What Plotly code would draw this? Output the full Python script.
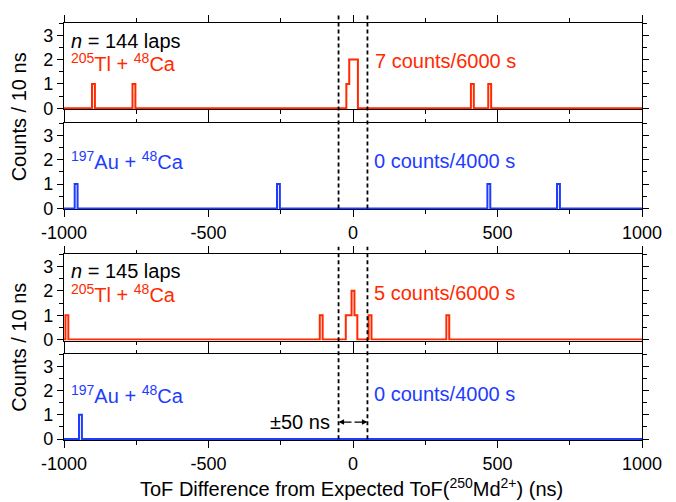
import plotly.graph_objects as go

# ---------------- data (bin centers in ns, counts per 10 ns bin) ----------------
BIN_WIDTH = 10
red144_centers = [-898, -758, -18, -8, 2, 12, 413, 473]
red144_counts = [1, 1, 1, 2, 2, 2, 1, 1]
blue144_centers = [-958, -258, 470, 711]
blue144_counts = [1, 1, 1, 1]
red145_centers = [-990, -110, -20, -10, 0, 10, 59, 328]
red145_counts = [1, 1, 1, 1, 2, 1, 1, 1]
blue145_centers = [-943]
blue145_counts = [1]

x_ticks = [-1000, -500, 0, 500, 1000]
y_ticks = [0, 1, 2, 3]

RED = "#FF2A00"
BLUE = "#1E3CFF"
FONT = "Liberation Sans, Arial, Helvetica, sans-serif"


def step_series(centers, counts, lo=-1000, hi=1000):
    bins = sorted(zip(centers, counts))
    edges = {lo, hi}
    for c, _ in bins:
        edges.add(round(c - BIN_WIDTH / 2, 3))
        edges.add(round(c + BIN_WIDTH / 2, 3))
    edges = sorted(e for e in edges if lo <= e <= hi)
    xs, ys = [], []
    for i in range(len(edges) - 1):
        mid = (edges[i] + edges[i + 1]) / 2
        v = 0
        for c, n in bins:
            if c - BIN_WIDTH / 2 <= mid <= c + BIN_WIDTH / 2:
                v = n
        xs.append(edges[i])
        ys.append(v)
    xs.append(edges[-1])
    ys.append(ys[-1])
    return xs, ys


panels = [
    (red144_centers, red144_counts, RED),
    (blue144_centers, blue144_counts, BLUE),
    (red145_centers, red145_counts, RED),
    (blue145_centers, blue145_counts, BLUE),
]

fig = go.Figure()
for i, (c, n, col) in enumerate(panels, start=1):
    xs, ys = step_series(c, n)
    fig.add_trace(go.Scatter(
        x=xs, y=ys, mode="lines", line=dict(color=col, width=2, shape="hv"),
        xaxis=f"x{i if i > 1 else ''}", yaxis=f"y{i if i > 1 else ''}",
        showlegend=False, hoverinfo="skip"))

domains = [[0.793, 1.0], [0.553, 0.7593], [0.2384, 0.4454], [0.0, 0.2054]]

# page has an 8 px body margin: figure is 668x494 placed at (8, 8)
layout = dict(
    width=668, height=494,
    margin=dict(l=56, r=34, t=7, b=62),
    paper_bgcolor="white", plot_bgcolor="white",
    font=dict(family=FONT, size=18, color="black"),
    showlegend=False,
)

for i in range(1, 5):
    sx = "" if i == 1 else str(i)
    layout[f"xaxis{sx}"] = dict(
        domain=[0, 1], anchor=f"y{sx}", range=[-1000, 1000],
        tickvals=x_ticks, ticktext=[str(v) for v in x_ticks],
        showticklabels=(i in (2, 4)),
        showline=True, linecolor="black", linewidth=1.2, mirror="ticks",
        ticks="outside", ticklen=7, tickwidth=1.2, tickcolor="black",
        minor=dict(dtick=250, tick0=0, ticks="outside", ticklen=3.5,
                   tickwidth=1.2, tickcolor="black", showgrid=False),
        showgrid=False, zeroline=False, layer="below traces",
        tickfont=dict(size=18, family=FONT),
        fixedrange=True,
    )
    layout[f"yaxis{sx}"] = dict(
        domain=domains[i - 1], anchor=f"x{sx}", range=[-0.04, 3.5],
        tickvals=y_ticks, ticktext=[str(v) for v in y_ticks],
        showline=True, linecolor="black", linewidth=1.2, mirror="ticks",
        ticks="outside", ticklen=6, tickwidth=1.2, tickcolor="black",
        minor=dict(dtick=0.5, tick0=0, ticks="outside", ticklen=3.5,
                   tickwidth=1.2, tickcolor="black", showgrid=False),
        showgrid=False, zeroline=False, layer="below traces",
        tickfont=dict(size=18, family=FONT),
        fixedrange=True,
    )

fig.update_layout(**layout)

# dashed +-50 ns lines
for x in (-50, 50):
    fig.add_shape(type="line", xref="x", yref="paper", x0=x, x1=x,
                  y0=0.555, y1=1.018,
                  line=dict(color="black", width=1.8, dash="4px,3px"))
    fig.add_shape(type="line", xref="x3", yref="paper", x0=x, x1=x,
                  y0=0.0015, y1=0.4635,
                  line=dict(color="black", width=1.8, dash="4px,3px"))

ann = []
def text(xref, yref, x, y, s, color, anchor="left"):
    ann.append(dict(xref=xref, yref=yref, x=x, y=y, text=s, showarrow=False,
                    xanchor=anchor, yanchor="middle",
                    font=dict(family=FONT, size=20, color=color)))

text("x", "y", -984, 2.78, "<i>n</i> = 144 laps", "black")
text("x", "y", -984, 1.88, "<sup>205</sup>Tl + <sup>48</sup>Ca", RED)
text("x", "y", 69, 1.95, "7 counts/6000 s", RED)
text("x2", "y2", -982, 1.97, "<sup>197</sup>Au + <sup>48</sup>Ca", BLUE)
text("x2", "y2", 67, 1.97, "0 counts/4000 s", BLUE)
text("x3", "y3", -984, 2.81, "<i>n</i> = 145 laps", "black")
text("x3", "y3", -984, 1.91, "<sup>205</sup>Tl + <sup>48</sup>Ca", RED)
text("x3", "y3", 67, 1.93, "5 counts/6000 s", RED)
text("x4", "y4", -982, 1.86, "<sup>197</sup>Au + <sup>48</sup>Ca", BLUE)
text("x4", "y4", 67, 1.88, "0 counts/4000 s", BLUE)
text("x4", "y4", -72, 0.7, "±50 ns", "black", anchor="right")

# double-headed arrow +-50 ns
for xh in (-50, 50):
    ann.append(dict(xref="x4", yref="y4", x=xh, y=0.7, axref="x4", ayref="y4",
                    ax=0, ay=0.7, text="", showarrow=True, arrowhead=2,
                    arrowsize=1, arrowwidth=1.1, arrowcolor="black",
                    standoff=0, startstandoff=0))

# axis titles
for yc in (0.776, 0.2235):
    ann.append(dict(xref="paper", yref="paper", x=-0.078, y=yc,
                    text="Counts / 10 ns", showarrow=False, textangle=-90,
                    xanchor="center", yanchor="middle",
                    font=dict(family=FONT, size=20, color="black")))
ann.append(dict(xref="paper", yref="paper", x=0.498, y=-0.1144,
                text="ToF Difference from Expected ToF(<sup>250</sup>Md<sup>2+</sup>) (ns)",
                showarrow=False, xanchor="center", yanchor="middle",
                font=dict(family=FONT, size=20, color="black")))

fig.update_layout(annotations=ann)
fig.write_html("out.html")
